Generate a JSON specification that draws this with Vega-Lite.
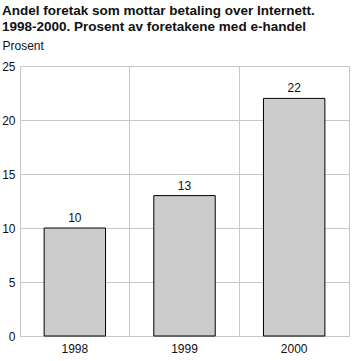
{
  "$schema": "https://vega.github.io/schema/vega-lite/v6.json",
  "width": 329,
  "height": 270,
  "autosize": {"type": "none"},
  "padding": {"left": 20, "top": 66, "right": 6, "bottom": 25},
  "background": "white",
  "title": {
    "text": ["Andel foretak som mottar betaling over Internett.", "1998-2000. Prosent av foretakene med e-handel"],
    "anchor": "start",
    "frame": "group",
    "font": "Liberation Sans",
    "fontSize": 13.5,
    "fontWeight": "bold",
    "color": "#111111",
    "lineHeight": 16,
    "dx": -18,
    "offset": 6
  },
  "data": {
    "values": [
      {"year": "1998", "value": 10},
      {"year": "1999", "value": 13},
      {"year": "2000", "value": 22}
    ]
  },
  "encoding": {
    "x": {
      "field": "year",
      "type": "nominal",
      "scale": {"paddingInner": 0, "paddingOuter": 0},
      "axis": {
        "title": null,
        "labelAngle": 0,
        "labelFont": "Liberation Sans",
        "labelFontSize": 12,
        "labelColor": "#111111",
        "labelPadding": 7,
        "ticks": false,
        "domain": false,
        "grid": true,
        "bandPosition": 0,
        "gridColor": "#c8c8c8",
        "gridWidth": 1
      }
    },
    "y": {
      "field": "value",
      "type": "quantitative",
      "scale": {"domain": [0, 25]},
      "axis": {
        "values": [0, 5, 10, 15, 20, 25],
        "title": "Prosent",
        "titleAngle": 0,
        "titleAlign": "left",
        "titleBaseline": "alphabetic",
        "titleX": -18,
        "titleY": -17,
        "titleFont": "Liberation Sans",
        "titleFontSize": 12,
        "titleFontWeight": "normal",
        "titleColor": "#111111",
        "labelFont": "Liberation Sans",
        "labelFontSize": 12,
        "labelColor": "#111111",
        "labelPadding": 5,
        "ticks": false,
        "domain": false,
        "gridColor": "#c8c8c8",
        "gridWidth": 1
      }
    }
  },
  "layer": [
    {
      "mark": {"type": "bar", "width": {"band": 0.56}, "fill": "#cccccc", "stroke": "#000000", "strokeWidth": 1}
    },
    {
      "mark": {"type": "text", "baseline": "bottom", "dy": -3, "font": "Liberation Sans", "fontSize": 12, "color": "#111111"},
      "encoding": {"text": {"field": "value", "type": "quantitative"}}
    }
  ],
  "config": {
    "view": {"stroke": "#c8c8c8", "strokeWidth": 1}
  }
}
